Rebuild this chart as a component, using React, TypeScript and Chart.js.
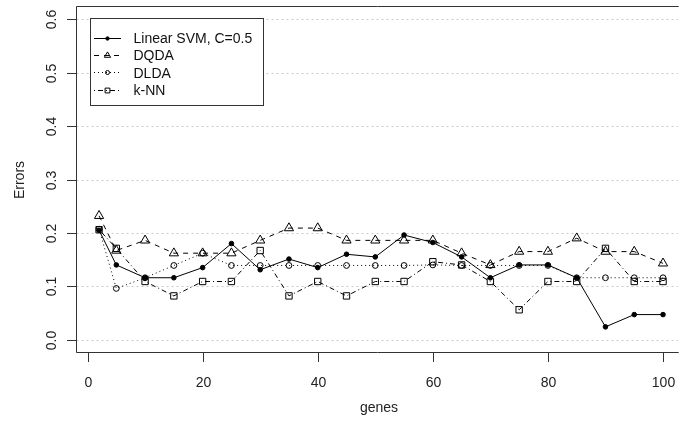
import { useEffect, useRef } from 'react';
import { Chart, registerables } from 'chart.js';

Chart.register(...registerables);

const genes = [2, 5, 10, 15, 20, 25, 30, 35, 40, 45, 50, 55, 60, 65, 70, 75, 80, 85, 90, 95, 100];
const svmErrors = [0.205, 0.14, 0.116, 0.116, 0.135, 0.18, 0.131, 0.151, 0.135, 0.16, 0.155, 0.196, 0.182, 0.155, 0.116, 0.14, 0.14, 0.116, 0.024, 0.047, 0.047];
const dqdaErrors = [0.232, 0.167, 0.186, 0.162, 0.162, 0.162, 0.186, 0.209, 0.209, 0.186, 0.186, 0.186, 0.186, 0.162, 0.14, 0.165, 0.165, 0.19, 0.165, 0.165, 0.143];
const dldaErrors = [0.207, 0.096, 0.116, 0.139, 0.162, 0.139, 0.139, 0.139, 0.139, 0.139, 0.139, 0.139, 0.14, 0.139, 0.139, 0.139, 0.139, 0.116, 0.116, 0.116, 0.116];
const knnErrors = [0.206, 0.171, 0.109, 0.082, 0.109, 0.109, 0.167, 0.082, 0.109, 0.082, 0.109, 0.109, 0.146, 0.14, 0.109, 0.056, 0.109, 0.109, 0.171, 0.109, 0.109];

const seriesNames = ['Linear SVM, C=0.5', 'DQDA', 'DLDA', 'k-NN'];
const xTicks = [0, 20, 40, 60, 80, 100];
const yTicks = [0, 0.1, 0.2, 0.3, 0.4, 0.5, 0.6];
const xTitle = 'genes';
const yTitle = 'Errors';

const FONT = '14px "Liberation Sans", Arial, sans-serif';
const AXIS = '#333333';

const styles = [
  { dash: [] as number[], point: 'circle', r: 2.3, fill: '#000000', lr: 1.7 },
  { dash: [5, 5], point: 'triangle', r: 5.3, fill: 'rgba(0,0,0,0)', lr: 3.6 },
  { dash: [1, 3], point: 'circle', r: 2.9, fill: 'rgba(0,0,0,0)', lr: 2.0 },
  { dash: [1, 3, 5, 3], point: 'rect', r: 4.5, fill: 'rgba(0,0,0,0)', lr: 3.4 },
];

function drawMarker(ctx: CanvasRenderingContext2D, kind: string, x: number, y: number, r: number, filled: boolean) {
  ctx.beginPath();
  if (kind === 'circle') {
    ctx.arc(x, y, r, 0, Math.PI * 2);
  } else if (kind === 'triangle') {
    ctx.moveTo(x, y - r);
    ctx.lineTo(x + r * Math.sin(2 * Math.PI / 3), y - r * Math.cos(2 * Math.PI / 3));
    ctx.lineTo(x + r * Math.sin(4 * Math.PI / 3), y - r * Math.cos(4 * Math.PI / 3));
    ctx.closePath();
  } else {
    const s = r * Math.SQRT1_2;
    ctx.rect(x - s, y - s, 2 * s, 2 * s);
  }
  if (filled) {
    ctx.fillStyle = '#000';
    ctx.fill();
  } else {
    ctx.fillStyle = '#fff';
  }
  ctx.stroke();
}

const framePlugin = {
  id: 'rframe',
  beforeDatasetsDraw(chart: any) {
    const ctx: CanvasRenderingContext2D = chart.ctx;
    const { left, right, top, bottom } = chart.chartArea;
    const ys = chart.scales.y;
    ctx.save();
    ctx.fillStyle = '#fff';
    ctx.fillRect(0, 0, chart.width, chart.height);
    ctx.strokeStyle = '#c8c8c8';
    ctx.lineWidth = 1;
    ctx.setLineDash([2, 3]);
    for (const v of yTicks) {
      const y = Math.round(ys.getPixelForValue(v)) + 0.5;
      ctx.beginPath();
      ctx.moveTo(left, y);
      ctx.lineTo(right, y);
      ctx.stroke();
    }
    ctx.restore();
  },
  afterDatasetsDraw(chart: any) {
    const ctx: CanvasRenderingContext2D = chart.ctx;
    const { left, right, top, bottom } = chart.chartArea;
    const xs = chart.scales.x;
    const ys = chart.scales.y;
    ctx.save();
    ctx.strokeStyle = AXIS;
    ctx.lineWidth = 1;
    ctx.setLineDash([]);
    // box
    ctx.beginPath();
    ctx.moveTo(right + 1, top);
    ctx.lineTo(left, top);
    ctx.lineTo(left, bottom);
    ctx.lineTo(right + 1, bottom);
    ctx.stroke();
    // y ticks
    ctx.fillStyle = '#222';
    ctx.font = FONT;
    for (const v of yTicks) {
      const y = Math.round(ys.getPixelForValue(v)) + 0.5;
      ctx.beginPath();
      ctx.moveTo(left - 9.5, y);
      ctx.lineTo(left, y);
      ctx.stroke();
      ctx.save();
      ctx.translate(55.5, y);
      ctx.rotate(-Math.PI / 2);
      ctx.textAlign = 'center';
      ctx.textBaseline = 'alphabetic';
      ctx.fillText(v.toFixed(1), 0, 0);
      ctx.restore();
    }
    // x ticks
    for (const v of xTicks) {
      const x = Math.round(xs.getPixelForValue(v)) + 0.5;
      ctx.beginPath();
      ctx.moveTo(x, bottom);
      ctx.lineTo(x, bottom + 9.5);
      ctx.stroke();
      ctx.textAlign = 'center';
      ctx.textBaseline = 'alphabetic';
      ctx.fillText(String(v), x, 386.5);
    }
    // titles
    ctx.textAlign = 'center';
    ctx.fillText(xTitle, 379, 412);
    ctx.save();
    ctx.translate(23.5, 180);
    ctx.rotate(-Math.PI / 2);
    ctx.fillText(yTitle, 0, 0);
    ctx.restore();

    // legend
    const bx = 90.5, by = 18.5, bw = 173, bh = 87;
    ctx.fillStyle = '#fff';
    ctx.fillRect(bx, by, bw, bh);
    ctx.strokeStyle = AXIS;
    ctx.strokeRect(bx, by, bw, bh);
    const rows = [37.5, 54.9, 72.3, 89.7];
    seriesNames.forEach((name, i) => {
      const st = styles[i];
      const y = Math.round(rows[i]) + 0.5;
      ctx.strokeStyle = '#000';
      ctx.setLineDash(st.dash);
      ctx.beginPath();
      ctx.moveTo(94, y);
      ctx.lineTo(121, y);
      ctx.stroke();
      ctx.setLineDash([]);
      drawMarker(ctx, st.point, 107.5, y, st.lr, i === 0);
      ctx.fillStyle = '#111';
      ctx.textAlign = 'left';
      ctx.textBaseline = 'alphabetic';
      ctx.fillText(name, 133.5, rows[i] + 5.3);
    });
    ctx.restore();
  },
};

export default function App() {
  const ref = useRef<HTMLCanvasElement>(null);
  useEffect(() => {
    const seriesValues = [svmErrors, dqdaErrors, dldaErrors, knnErrors];
    const chart = new Chart(ref.current as HTMLCanvasElement, {
      type: 'line',
      data: {
        datasets: seriesNames.map((name, i) => ({
          label: name,
          data: genes.map((g, k) => ({ x: g, y: seriesValues[i][k] })),
          borderColor: '#000',
          borderWidth: 1,
          borderDash: styles[i].dash,
          pointStyle: styles[i].point as any,
          pointRadius: styles[i].r,
          pointBorderWidth: 1,
          pointBorderColor: '#000',
          pointBackgroundColor: styles[i].fill,
          tension: 0,
          fill: false,
        })),
      },
      options: {
        animation: false,
        responsive: false,
        devicePixelRatio: 1,
        layout: { padding: { left: 76.5, top: 6.5, right: 0, bottom: 72.5 } },
        scales: {
          x: { type: 'linear', display: false, min: -1.92, max: 102.55 },
          y: { type: 'linear', display: false, min: -0.024, max: 0.624 },
        },
        plugins: { legend: { display: false }, tooltip: { enabled: false } },
        events: [],
      },
      plugins: [framePlugin],
    });
    return () => chart.destroy();
  }, []);
  return (
    <div style={{ position: 'absolute', left: 0, top: 0, width: 684, height: 425, background: '#fff' }}>
      <canvas ref={ref} width={684} height={425} style={{ display: 'block', width: 684, height: 425 }} />
    </div>
  );
}
